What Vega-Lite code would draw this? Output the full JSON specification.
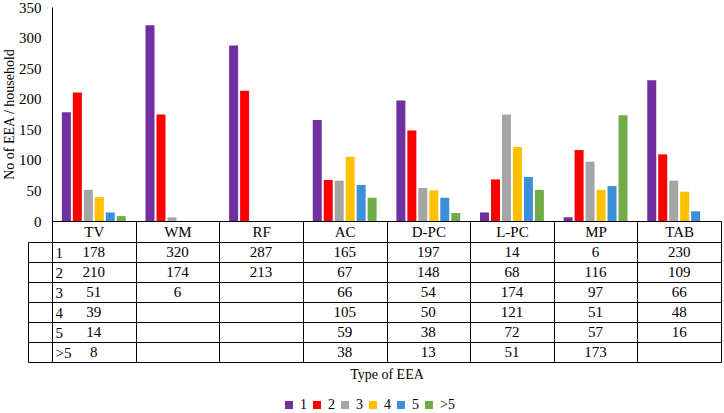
{
  "$schema": "https://vega.github.io/schema/vega-lite/v6.json",
  "background": "white",
  "padding": {"left": 2, "top": 0, "right": 0, "bottom": 0},
  "datasets": {
    "counts": [
      {"type": "TV", "level": "1", "value": 178},
      {"type": "TV", "level": "2", "value": 210},
      {"type": "TV", "level": "3", "value": 51},
      {"type": "TV", "level": "4", "value": 39},
      {"type": "TV", "level": "5", "value": 14},
      {"type": "TV", "level": ">5", "value": 8},
      {"type": "WM", "level": "1", "value": 320},
      {"type": "WM", "level": "2", "value": 174},
      {"type": "WM", "level": "3", "value": 6},
      {"type": "RF", "level": "1", "value": 287},
      {"type": "RF", "level": "2", "value": 213},
      {"type": "AC", "level": "1", "value": 165},
      {"type": "AC", "level": "2", "value": 67},
      {"type": "AC", "level": "3", "value": 66},
      {"type": "AC", "level": "4", "value": 105},
      {"type": "AC", "level": "5", "value": 59},
      {"type": "AC", "level": ">5", "value": 38},
      {"type": "D-PC", "level": "1", "value": 197},
      {"type": "D-PC", "level": "2", "value": 148},
      {"type": "D-PC", "level": "3", "value": 54},
      {"type": "D-PC", "level": "4", "value": 50},
      {"type": "D-PC", "level": "5", "value": 38},
      {"type": "D-PC", "level": ">5", "value": 13},
      {"type": "L-PC", "level": "1", "value": 14},
      {"type": "L-PC", "level": "2", "value": 68},
      {"type": "L-PC", "level": "3", "value": 174},
      {"type": "L-PC", "level": "4", "value": 121},
      {"type": "L-PC", "level": "5", "value": 72},
      {"type": "L-PC", "level": ">5", "value": 51},
      {"type": "MP", "level": "1", "value": 6},
      {"type": "MP", "level": "2", "value": 116},
      {"type": "MP", "level": "3", "value": 97},
      {"type": "MP", "level": "4", "value": 51},
      {"type": "MP", "level": "5", "value": 57},
      {"type": "MP", "level": ">5", "value": 173},
      {"type": "TAB", "level": "1", "value": 230},
      {"type": "TAB", "level": "2", "value": 109},
      {"type": "TAB", "level": "3", "value": 66},
      {"type": "TAB", "level": "4", "value": 48},
      {"type": "TAB", "level": "5", "value": 16}
    ]
  },
  "bounds": "flush",
  "spacing": 21,
  "vconcat": [
    {
      "width": 669,
      "height": 214,
      "data": {"name": "counts"},
      "mark": {"type": "bar"},
      "encoding": {
        "x": {
          "field": "type",
          "type": "nominal",
          "scale": {"domain": ["TV", "WM", "RF", "AC", "D-PC", "L-PC", "MP", "TAB"], "paddingInner": 0, "paddingOuter": 0},
          "axis": {
            "title": null,
            "labelAngle": 0,
            "tickBand": "extent",
            "tickSize": 21,
            "tickColor": "black",
            "domainColor": "black",
            "labelBaseline": "middle",
            "labelPadding": -11
          }
        },
        "xOffset": {
          "field": "level",
          "type": "nominal",
          "scale": {"domain": ["1", "2", "3", "4", "5", ">5"], "paddingInner": 0.18, "paddingOuter": 0.9}
        },
        "y": {
          "field": "value",
          "type": "quantitative",
          "scale": {"domain": [0, 350], "nice": false},
          "axis": {
            "title": "No of EEA / household",
            "values": [0, 50, 100, 150, 200, 250, 300, 350],
            "grid": false,
            "ticks": false,
            "labelPadding": 11,
            "domainColor": "black",
            "titlePadding": 2
          }
        },
        "color": {
          "field": "level",
          "type": "nominal",
          "scale": {
            "domain": ["1", "2", "3", "4", "5", ">5"],
            "range": ["#7030A0", "#FF0000", "#A5A5A5", "#FFC000", "#3D8FDA", "#70AD47"]
          },
          "legend": {
            "title": null,
            "orient": "none",
            "legendX": 230,
            "legendY": 391,
            "direction": "horizontal",
            "symbolType": "square",
            "symbolSize": 64,
            "symbolStrokeWidth": 0,
            "columnPadding": 3,
            "labelOffset": 4,
            "labelFontSize": 14
          }
        }
      }
    },
    {
      "width": 669,
      "height": 120,
      "data": {"name": "counts"},
      "mark": {"type": "text", "fontSize": 15, "font": "Liberation Serif, Times New Roman, DejaVu Serif, serif", "color": "black"},
      "encoding": {
        "x": {
          "field": "type",
          "type": "nominal",
          "scale": {"domain": ["TV", "WM", "RF", "AC", "D-PC", "L-PC", "MP", "TAB"], "paddingInner": 0, "paddingOuter": 0},
          "axis": {
            "title": "Type of EEA",
            "labels": false,
            "ticks": false,
            "domain": false,
            "grid": true,
            "tickBand": "extent",
            "titlePadding": 5
          }
        },
        "y": {
          "field": "level",
          "type": "ordinal",
          "scale": {"domain": ["1", "2", "3", "4", "5", ">5"], "paddingInner": 0, "paddingOuter": 0},
          "axis": {
            "title": null,
            "grid": true,
            "tickBand": "extent",
            "offset": 24,
            "tickSize": -24,
            "tickColor": "black",
            "domainColor": "black",
            "labelAlign": "left",
            "labelPadding": -3
          }
        },
        "text": {"field": "value", "type": "quantitative"}
      }
    }
  ],
  "config": {
    "font": "Liberation Serif, Times New Roman, DejaVu Serif, serif",
    "view": {"stroke": null},
    "axis": {
      "labelFont": "Liberation Serif, Times New Roman, DejaVu Serif, serif",
      "titleFont": "Liberation Serif, Times New Roman, DejaVu Serif, serif",
      "labelFontSize": 15,
      "titleFontSize": 14,
      "titleFontWeight": "normal",
      "labelColor": "black",
      "titleColor": "black",
      "gridColor": "black",
      "gridOpacity": 1
    },
    "legend": {
      "labelFont": "Liberation Serif, Times New Roman, DejaVu Serif, serif",
      "labelColor": "black"
    }
  }
}
